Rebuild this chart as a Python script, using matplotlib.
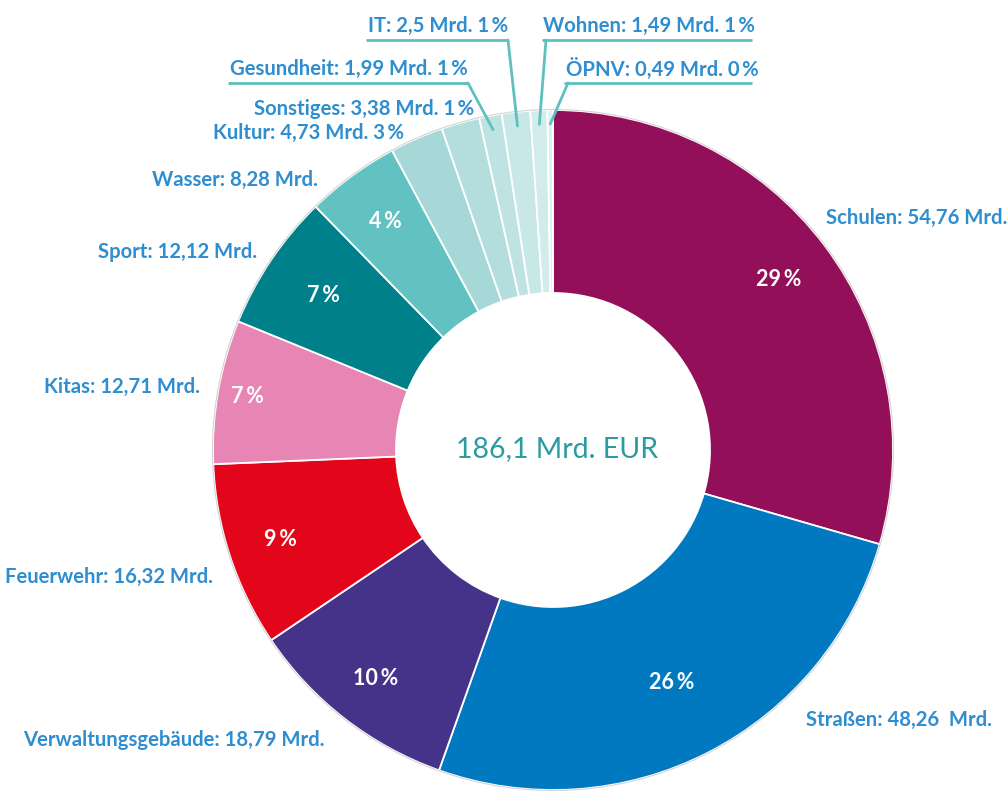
import numpy as np
import matplotlib
matplotlib.use("Agg")
import matplotlib.pyplot as plt

W, H = 1008, 794

categories = ["Schulen", "Straßen", "Verwaltungsgebäude", "Feuerwehr", "Kitas", "Sport",
              "Wasser", "Kultur", "Sonstiges", "Gesundheit", "IT", "Wohnen", "ÖPNV"]
values = [54.76, 48.26, 18.79, 16.32, 12.71, 12.12, 8.28, 4.73, 3.38, 1.99, 2.5, 1.49, 0.49]
value_labels = ["54,76", "48,26 ", "18,79", "16,32", "12,71", "12,12", "8,28", "4,73", "3,38",
                "1,99", "2,5", "1,49", "0,49"]
pct_labels = ["29", "26", "10", "9", "7", "7", "4", "3", "1", "1", "1", "1", "0"]
total_label = "186,1 Mrd. EUR"

colors = ["#940F5A", "#0079C1", "#45338A", "#E3061B", "#E785B5", "#00808A", "#62C2C1",
          "#A6D8D8", "#B4DEDE", "#BFE3E3", "#C8E7E7", "#D2ECEC", "#DCF0F0"]

LABEL_C = "#2E8ECF"
LINE_C = "#5EC0BF"
FONT = ["Lato", "DejaVu Sans"]
THIN = "\u2009"

cx, cy = 553, H - 450
R = 340
R_in = 157

fig = plt.figure(figsize=(W / 100, H / 100), dpi=100)
ax = fig.add_axes([0, 0, 1, 1])
wedges, _ = ax.pie(values, colors=colors, startangle=90, counterclock=False,
                   center=(cx, cy), radius=R,
                   wedgeprops=dict(width=R - R_in, edgecolor="white", linewidth=1.3))
ax.add_patch(plt.Circle((cx, cy), R + 0.5, fill=False, edgecolor="#d4d4d4", linewidth=0.8))
ax.set_xlim(0, W)
ax.set_ylim(0, H)
ax.set_aspect("equal")
ax.axis("off")

# mid angles from the wedges
mids = [np.deg2rad((w.theta1 + w.theta2) / 2) for w in wedges]

# inner percentage labels for large slices
pct_r = [283, 261, 289, 287, 310, 277, 283]
for i, r in enumerate(pct_r):
    a = mids[i]
    ax.text(cx + r * np.cos(a), cy + r * np.sin(a), pct_labels[i] + THIN + "%",
            ha="center", va="center", color="white", fontsize=15.5,
            fontweight="bold", family=FONT)

# outer labels: (x, y_img, ha)
def lbl(i, with_pct):
    s = f"{categories[i]}: {value_labels[i]} Mrd."
    if with_pct:
        s += f" {pct_labels[i]}{THIN}%"
    return s

outer = {
    0: (826, 218, "left", False),
    1: (806, 720, "left", False),
    2: (325, 740, "right", False),
    3: (213, 577, "right", False),
    4: (200, 387, "right", False),
    5: (257, 252, "right", False),
    6: (318, 180, "right", False),
    7: (404, 133, "right", True),
    8: (474, 109, "right", True),
    9: (468, 69, "right", True),
    10: (508, 26, "right", True),
    11: (543, 26, "left", True),
    12: (566, 69, "left", True),
}
for i, (x, y, ha, wp) in outer.items():
    ax.text(x, H - y, lbl(i, wp), ha=ha, va="center", color=LABEL_C,
            fontsize=14.6, fontweight="bold", family=FONT)

# leader lines for the tiny slices: underline (x0, x1, y_img, knee_x)
leaders = {
    9: (228, 468, 83, 468),
    10: (366, 508, 40, 508),
    11: (542, 752, 40, 546),
    12: (564, 752, 83, 568),
}
r_end = 326
for i, (x0, x1, y, kx) in leaders.items():
    a = mids[i]
    ex, ey = cx + r_end * np.cos(a), cy + r_end * np.sin(a)
    ax.plot([x0, x1], [H - y, H - y], color=LINE_C, lw=2, solid_capstyle="butt")
    ax.plot([kx, ex], [H - y, ey], color=LINE_C, lw=2, solid_capstyle="round")

ax.text(557, H - 449, total_label, ha="center", va="center", color="#2A9CA0",
        fontsize=20.5, family=FONT)

fig.savefig("out.png", dpi=100)
